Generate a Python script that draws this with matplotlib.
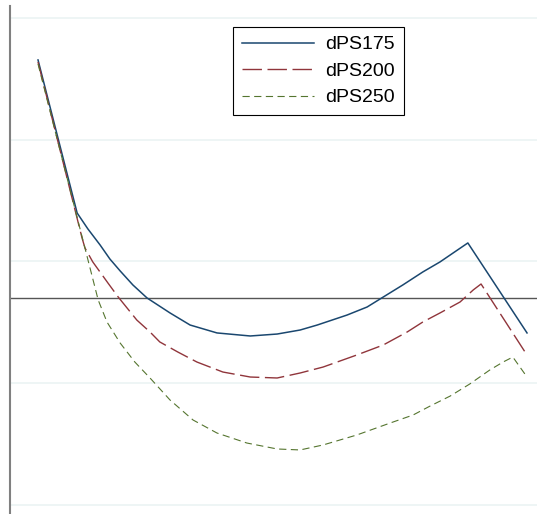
import matplotlib
matplotlib.use("Agg")
import matplotlib.pyplot as plt

# ----------------------
# Data (x: horizon 0..100, y: chart units)
# ----------------------
x175 = [0.0, 8.0, 10.2, 12.7, 14.7, 16.8, 19.4, 22.3, 27.0, 31.1, 36.6, 43.4,
        48.9, 53.6, 57.1, 63.2, 67.3, 70.6, 74.6, 78.7, 82.2, 84.9, 87.9, 100.0]
y175 = [1.955, 0.698, 0.567, 0.435, 0.320, 0.222, 0.107, 0.0, -0.123, -0.222,
        -0.287, -0.312, -0.296, -0.263, -0.222, -0.140, -0.074, 0.008, 0.107,
        0.214, 0.296, 0.370, 0.452, -0.287]

x200 = [0.0, 9.0, 9.6, 11.2, 14.3, 16.4, 20.2, 22.9, 24.9, 28.6, 32.5, 37.8,
        43.4, 48.9, 53.6, 58.3, 65.2, 70.6, 75.5, 78.7, 82.2, 86.3, 89.0, 90.6, 99.6]
y200 = [1.938, 0.493, 0.411, 0.296, 0.123, 0.008, -0.181, -0.279, -0.361,
        -0.444, -0.526, -0.608, -0.649, -0.657, -0.616, -0.567, -0.468, -0.386,
        -0.279, -0.197, -0.123, -0.033, 0.066, 0.115, -0.444]

x250 = [0.0, 12.3, 14.1, 16.8, 19.8, 22.9, 27.0, 31.7, 36.6, 42.7, 48.9, 53.6,
        58.3, 65.2, 72.0, 76.7, 80.2, 84.3, 88.3, 92.4, 95.1, 97.1, 100.0]
y250 = [1.922, -0.016, -0.197, -0.370, -0.526, -0.657, -0.838, -1.002, -1.109,
        -1.191, -1.240, -1.248, -1.207, -1.125, -1.027, -0.961, -0.887, -0.805,
        -0.706, -0.591, -0.526, -0.485, -0.649]

yticks = [2.3, 1.3, 0.3, -0.7, -1.7]

# ----------------------
# Figure
# ----------------------
plt.rcParams['font.family'] = ['Liberation Sans', 'DejaVu Sans']

fig = plt.figure(figsize=(5.37, 5.14), dpi=100)
ax = fig.add_axes([10 / 537, 0, 527 / 537, 508 / 514])

ax.set_xlim(-5.73, 102.04)
ax.set_ylim(-1.774, 2.398)

for t in yticks:
    ax.axhline(t, color='#eaf2f3', lw=1.1, zorder=0)
ax.axhline(0, color='#555555', lw=1.0, zorder=1)

ax.plot(x175, y175, color='#1a476f', lw=1.1, label='dPS175', zorder=3)
ax.plot(x200, y200, color='#90353b', lw=1.0, linestyle=(0, (14, 4)),
        label='dPS200', zorder=3)
ax.plot(x250, y250, color='#55752f', lw=0.8, linestyle=(0, (6.5, 4)),
        label='dPS250', zorder=3)

ax.set_xticks([])
ax.set_yticks([])
for s in ['top', 'right', 'bottom']:
    ax.spines[s].set_visible(False)
ax.spines['left'].set_color('#808080')
ax.spines['left'].set_linewidth(1.5)

leg = ax.legend(loc='upper left', bbox_to_anchor=(233 / 537, 1 - 27 / 514),
                bbox_transform=fig.transFigure, borderaxespad=0,
                fontsize=14, handlelength=3.7, handletextpad=0.6,
                labelspacing=0.46, borderpad=0.45,
                fancybox=False, framealpha=1, edgecolor='black')
leg.get_frame().set_linewidth(0.8)

fig.savefig('out.png', dpi=100)
